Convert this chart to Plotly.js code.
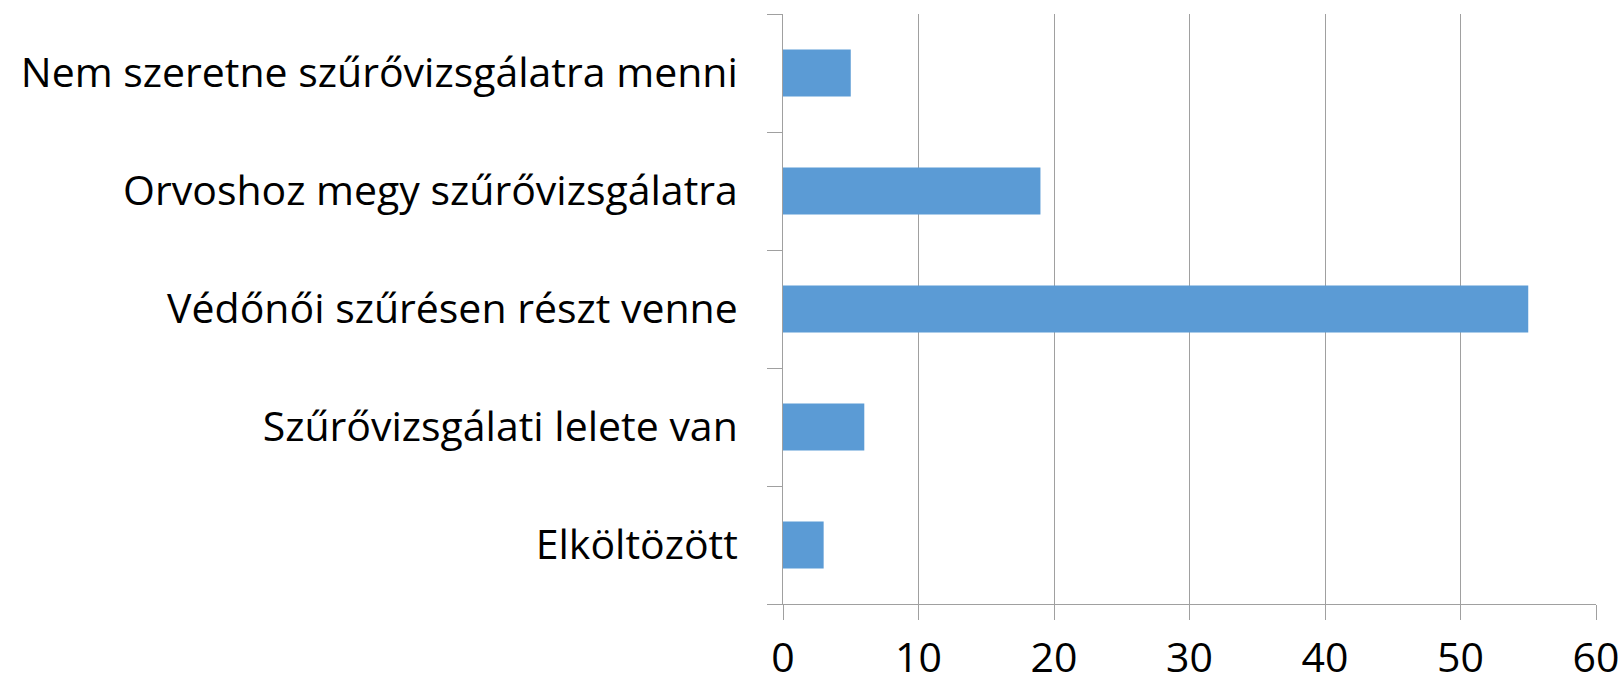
<!DOCTYPE html>
<html>
<head>
<meta charset="utf-8">
<script src="https://cdn.plot.ly/plotly-3.0.1.min.js"></script>
<style>html,body{margin:0;padding:0;background:#fff;}#chart{width:1622px;height:683px;}</style>
</head>
<body>
<div id="chart"></div>
<script>
const categories = [
  "Elköltözött",
  "Szűrővizsgálati lelete van",
  "Védőnői szűrésen részt venne",
  "Orvoshoz megy szűrővizsgálatra",
  "Nem szeretne szűrővizsgálatra menni"
];
const values = [3, 6, 55, 19, 5];
const xTicks = [0, 10, 20, 30, 40, 50, 60];

const trace = {
  type: "bar",
  orientation: "h",
  x: values,
  y: categories,
  marker: {color: "#5B9BD5"},
  hoverinfo: "x+y"
};

const layout = {
  width: 1622,
  height: 683,
  margin: {l: 783, r: 26, t: 14, b: 79},
  paper_bgcolor: "#ffffff",
  plot_bgcolor: "#ffffff",
  bargap: 0.6,
  showlegend: false,
  font: {family: "Open Sans, sans-serif", color: "#000000", size: 41},
  xaxis: {
    range: [0, 60],
    tickvals: xTicks,
    ticktext: xTicks.map(String),
    showgrid: true,
    gridcolor: "#a0a0a0",
    gridwidth: 1,
    zeroline: false,
    showline: true,
    linecolor: "#a0a0a0",
    linewidth: 1,
    ticks: "outside",
    ticklen: 15,
    tickcolor: "#a0a0a0",
    tickfont: {size: 41, family: "Open Sans, sans-serif"},
    ticklabelstandoff: 3
  },
  yaxis: {
    type: "category",
    categoryorder: "array",
    categoryarray: categories,
    tickson: "boundaries",
    ticks: "outside",
    ticklen: 15,
    tickcolor: "#a0a0a0",
    showgrid: false,
    zeroline: false,
    showline: true,
    linecolor: "#a0a0a0",
    linewidth: 1,
    tickfont: {size: 41, family: "Open Sans, sans-serif"},
    ticklabelstandoff: 36
  }
};

Plotly.newPlot("chart", [trace], layout, {displayModeBar: false, staticPlot: true});
</script>
</body>
</html>
